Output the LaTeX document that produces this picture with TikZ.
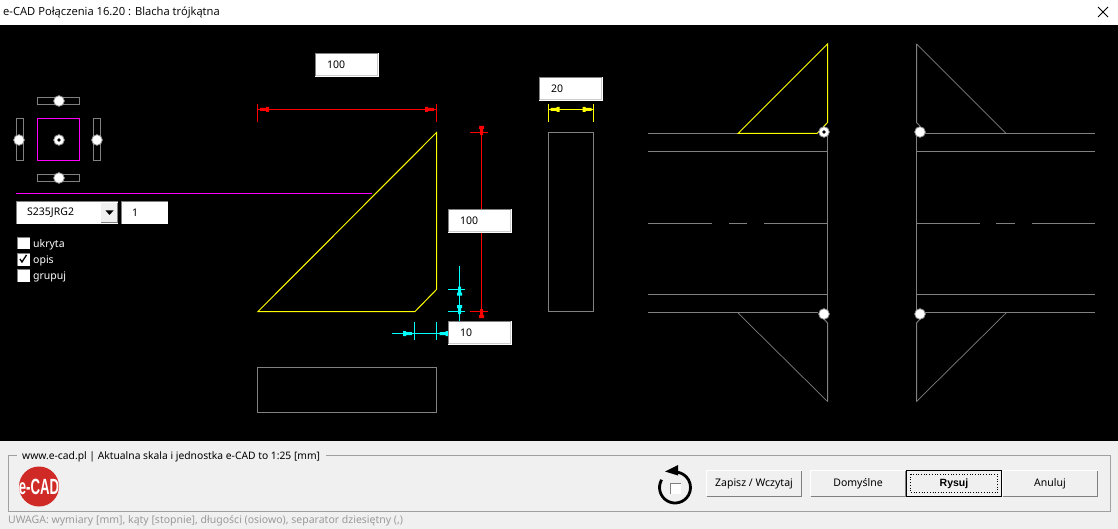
\documentclass[tikz,border=0pt]{standalone}
\usepackage{fontspec}
\setmainfont{Noto Sans}
\newfontfamily\titlefont{Open Sans}
\newfontfamily\heavyfont{Liberation Sans}
\usepackage{xcolor}
\definecolor{panelgrey}{HTML}{F0F0F0}
\definecolor{wiregrey}{HTML}{808080}
\definecolor{framegrey}{HTML}{A0A0A0}
\definecolor{notegrey}{HTML}{9A9A9A}
\definecolor{logored}{HTML}{D02A26}
\definecolor{dimcyan}{HTML}{00FFFF}
\definecolor{dimred}{HTML}{FF0000}
\definecolor{dimyellow}{HTML}{FFFF00}
\definecolor{keypink}{HTML}{FF00FF}
\tikzset{
  wire/.style={wiregrey,line width=1pt},
  plate/.style={dimyellow,line width=1pt},
  uitext/.style={inner sep=0pt,anchor=west,font=\fontsize{10.5}{12}\selectfont},
  btntext/.style={inner sep=0pt,font=\fontsize{10.5}{12}\selectfont,text=black},
}
% x y colour angle: tip of a dimension arrow
\newcommand\dimtip[4]{
  \fill[#3,shift={(#1,#2)},rotate=#4]
    (0,-1.5) -- (6,-1.5) -- (6,-2.5) -- (9,-2.5) -- (9,2.5) -- (6,2.5) -- (6,1.5) -- (0,1.5) -- cycle;
}
% name x y text: white value field
\newcommand\valbox[4]{
  \fill[white] (#2,#3) rectangle ++(64,24);
  \draw[wiregrey,line width=1pt] (#2+.5,#3+23) -- (#2+.5,#3+.5) -- (#2+63,#3+.5);
  \draw[panelgrey!85!black,line width=1pt] (#2+1,#3+22.5) -- (#2+62.5,#3+22.5) -- (#2+62.5,#3+1);
  \node[uitext,text=black] (#1) at (#2+12,#3+11.5) {#4};
}
% x y: bolt circle
\newcommand\bolt[2]{
  \fill[white] (#1,#2) circle (5.5);
  \draw[wiregrey,line width=.7pt] (#1,#2) circle (5.3);
}
% name x text: push button
\newcommand\pushbtn[3]{
  \fill[panelgrey] (#2,470) rectangle ++(96,26.5);
  \draw[white,line width=1pt] (#2+.5,496) -- (#2+.5,470.5) -- (#2+95.5,470.5);
  \draw[wiregrey,line width=1pt] (#2+.5,496) -- (#2+95.5,496) -- (#2+95.5,470.5);
  \node[btntext] (#1) at (#2+48,483.5) {#3};
}
% y: check box
\newcommand\tickbox[1]{
  \fill[white] (17,#1) rectangle ++(12.5,12.5);
  \draw[wiregrey,line width=1pt] (17.5,#1+12.5) -- (17.5,#1+.5) -- (29.5,#1+.5);
}
\begin{document}
\begin{tikzpicture}[x=1pt,y=-1pt]
  \useasboundingbox (0,0) rectangle (1118,529);
  \fill[white] (0,0) rectangle (1118,25);
  \fill[black] (0,25) rectangle (1118,441);
  \fill[panelgrey] (0,441) rectangle (1118,529);

  \node[inner sep=0pt,anchor=west,text=black,font=\titlefont\fontsize{11.2}{12}\selectfont] (title) at (3,12.5) {e-CAD Połączenia 16.20 : Blacha trójkątna};
  \draw[black,line width=.8pt] (1098,7) -- (1108,17) (1108,7) -- (1098,17);

  % connection key
  \draw[keypink,line width=1pt] (37.5,118.5) rectangle (79.5,160.5);
  \draw[wire] (37.5,97.5) rectangle (79.5,104.5);
  \draw[wire] (37.5,174.5) rectangle (79.5,181.5);
  \draw[wire] (16.5,118.5) rectangle (23.5,160.5);
  \draw[wire] (93.5,118.5) rectangle (100.5,160.5);
  \bolt{59}{101}
  \bolt{59}{178}
  \bolt{19}{140}
  \bolt{97}{140}
  \bolt{59}{140}
  \fill[black] (59,140) circle (1.8);
  \draw[keypink,line width=1pt] (16,193.5) -- (372,193.5);

  % steel grade and count
  \fill[white] (16,201) rectangle (118,224.5);
  \draw[wiregrey,line width=1pt] (16.5,224.5) -- (16.5,201.5) -- (118,201.5);
  \fill[panelgrey] (101,203) rectangle (117.5,222.5);
  \draw[wiregrey,line width=1pt] (101,222.5) -- (117.5,222.5) -- (117.5,203);
  \fill[black] (105.5,210.5) -- (113.5,210.5) -- (109.5,215) -- cycle;
  \node[uitext,text=black] (grade) at (27,213) {S235JRG2};
  \fill[white] (120.5,201) rectangle (168,224.5);
  \draw[wiregrey,line width=1pt] (121,224.5) -- (121,201.5) -- (168,201.5);
  \node[uitext,text=black] (count) at (132,213) {1};

  \tickbox{237}
  \tickbox{253}
  \tickbox{269}
  \draw[black,line width=1.3pt] (20,259) -- (22,262) -- (26.5,255);
  \node[uitext,text=white] (ukryta) at (33,245) {ukryta};
  \node[uitext,text=white] (opis) at (33,261) {opis};
  \node[uitext,text=white] (grupuj) at (33,277) {grupuj};

  % plate front and side
  \draw[plate] (258,311.5) -- (436.5,132.5) -- (436.5,289.5) -- (415,311.5) -- cycle;
  \draw[wire] (257.5,367.5) rectangle (436.5,412.5);
  \draw[wire] (548.5,132.5) rectangle (593.5,311.5);

  % dimensions
  \draw[dimred] (257.5,104) -- (257.5,122) (436.5,104) -- (436.5,122) (257.5,109.5) -- (436.5,109.5);
  \dimtip{260}{109.5}{dimred}{0}
  \dimtip{434}{109.5}{dimred}{180}
  \draw[dimred] (470,132.5) -- (488,132.5) (470,311.5) -- (488,311.5);
  \draw[dimred] (481.5,132.5) -- (481.5,311.5);
  \dimtip{481.5}{135}{dimred}{90}
  \dimtip{481.5}{309}{dimred}{-90}
  \draw[dimyellow] (548.5,104) -- (548.5,122) (593.5,104) -- (593.5,122) (548.5,109.5) -- (593.5,109.5);
  \dimtip{550.5}{109.5}{dimyellow}{0}
  \dimtip{591.5}{109.5}{dimyellow}{180}
  \draw[dimcyan] (448,289.5) -- (465,289.5) (448,311.5) -- (465,311.5) (459.5,266) -- (459.5,323);
  \dimtip{459.5}{286.5}{dimcyan}{-90}
  \dimtip{459.5}{314}{dimcyan}{90}
  \draw[dimcyan] (414.5,322) -- (414.5,340) (436.5,322) -- (436.5,340) (392,333.5) -- (448,333.5);
  \dimtip{412}{333.5}{dimcyan}{180}
  \dimtip{439.5}{333.5}{dimcyan}{0}

  \valbox{widthval}{315}{53}{100}
  \valbox{sideval}{539}{77}{20}
  \valbox{heightval}{448}{209}{100}
  \valbox{chamferval}{448}{321}{10}

  % left elevation
  \draw[wire] (648,133.5) -- (738,133.5);
  \draw[wire] (648,151.5) -- (827.5,151.5);
  \draw[wire] (648,223.5) -- (712,223.5) (729,223.5) -- (747,223.5) (764,223.5) -- (827.5,223.5);
  \draw[wire] (648,294.5) -- (827.5,294.5);
  \draw[wire] (648,312.5) -- (818,312.5);
  \draw[wire] (827.5,136) -- (827.5,310);
  \draw[wire,line width=.7pt] (738,313) -- (827.5,401.5);
  \draw[wire] (827.5,401.5) -- (827.5,323) -- (824,319);
  \draw[plate] (738,133.5) -- (827.5,44) -- (827.5,122.5) -- (817,133.5) -- cycle;
  \bolt{824}{132}
  \fill[black] (824,132) circle (1.8);
  \bolt{824}{314}

  % right elevation
  \draw[wire] (925,133.5) -- (1095,133.5);
  \draw[wire] (916.5,151.5) -- (1095,151.5);
  \draw[wire] (916.5,223.5) -- (980,223.5) (996,223.5) -- (1015,223.5) (1032,223.5) -- (1095,223.5);
  \draw[wire] (916.5,294.5) -- (1095,294.5);
  \draw[wire] (925,312.5) -- (1095,312.5);
  \draw[wire] (916.5,136) -- (916.5,310);
  \draw[wire,line width=.7pt] (1006,133.5) -- (916.5,44);
  \draw[wire] (916.5,44) -- (916.5,122.5) -- (920,126);
  \draw[wire,line width=.7pt] (1006,313) -- (916.5,401.5);
  \draw[wire] (916.5,401.5) -- (916.5,323) -- (920,319);
  \bolt{920}{132}
  \bolt{920}{314}

  % lower panel
  \draw[framegrey,line width=1pt] (17,455.5) -- (8.5,455.5) -- (8.5,511.5) -- (1110.5,511.5) -- (1110.5,455.5) -- (326,455.5);
  \node[uitext,text=black,font=\fontsize{10.3}{12}\selectfont] (scale) at (22,456.5) {www.e-cad.pl | Aktualna skala i jednostka e-CAD to 1:25 [mm]};
  \fill[logored] (39,486.5) circle (20);
  \node[inner sep=0pt,text=white,font=\heavyfont\fontsize{22}{23}\bfseries\selectfont,xscale=.6] (logo) at (39,486.5) {e-CAD};
  \node[uitext,text=notegrey] (note) at (8,520.5) {UWAGA: wymiary [mm], kąty [stopnie], długości (osiowo), separator dziesiętny (,)};

  % reload icon
  \draw[black,line width=2.8pt] (661.6,479.75) arc[start angle=210,end angle=-80,radius=15.5];
  \fill[black] (678,465) -- (665,471.5) -- (678,475.5) -- cycle;
  \fill[white] (670,483) rectangle (681,493.5);
  \draw[wiregrey,line width=1pt] (670.5,493.5) -- (670.5,483.5) -- (681,483.5);

  \pushbtn{savebtn}{706}{Zapisz / Wczytaj}
  \pushbtn{defaultbtn}{810}{Domyślne}
  \pushbtn{drawbtn}{906}{\heavyfont\bfseries Rysuj}
  \pushbtn{cancelbtn}{1002}{Anuluj}
  \draw[black,line width=1pt] (906.5,470.5) rectangle (1001.5,496.5);
  \draw[black,line width=.7pt,dotted] (910.5,474) rectangle (997.5,492.5);
\end{tikzpicture}
\end{document}
